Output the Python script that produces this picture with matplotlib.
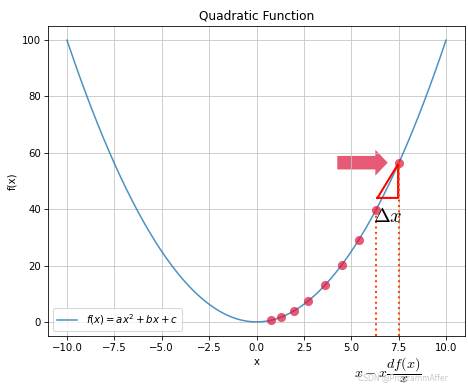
import numpy as np
import matplotlib
matplotlib.use('Agg')
from matplotlib import pyplot as plt

# curve: f(x) = x^2 on [-10, 10]
x = np.linspace(-10, 10, 200)
y = x ** 2

# descent points
pts_x = [7.5, 6.3, 5.4, 4.5, 3.6, 2.7, 2.0, 1.3, 0.75]
pts_y = [56.3, 39.7, 29.2, 20.3, 13.0, 7.3, 4.0, 1.7, 0.6]

# triangle corners and dotted guide lines
tri_x = [6.38, 7.47, 7.47, 6.38]
tri_y = [44.0, 44.0, 56.0, 44.0]
guide_x = [6.3, 7.5]
guide_top = [40.0, 57.0]

fig = plt.figure(figsize=(468 / 73, 390 / 73), dpi=73)
ax = fig.add_axes([0.1026, 0.1385, 0.891, 0.7948])

ax.plot(x, y, color='C0', alpha=0.8, label=r'$f(x) = ax^2 + bx + c$')
ax.plot(pts_x, pts_y, 'o', color='crimson', alpha=0.7, markersize=9, markeredgewidth=0)

ax.arrow(4.26, 56.5, 2.66, 0, width=4.8, head_width=9.2, head_length=0.65,
         length_includes_head=True, color='crimson', alpha=0.7, linewidth=0)

ax.plot(tri_x, tri_y, color='red', linewidth=2)
ax.vlines(guide_x, -5, guide_top, colors='orangered', linestyles=':', linewidth=2)

ax.text(6.12, 35.5, r'$\Delta x$', fontsize=20, math_fontfamily='cm')
ax.text(6.95, -17.0, r'$x - x\dfrac{df(x)}{x}$', fontsize=14, math_fontfamily='cm',
        ha='center', va='center', clip_on=False)

ax.set_xlim(-11, 11)
ax.set_ylim(-5, 105)
ax.set_title('Quadratic Function')
ax.set_xlabel('x')
ax.set_ylabel('f(x)')
ax.grid(True, color='#c4c4c4')
ax.legend(loc='lower left')

fig.text(0.958, 0.018, 'CSDN @ProgrammAffer', ha='right', va='bottom',
         fontsize=7.5, color='#c8c8c8')

fig.savefig('out.png', dpi=73)
